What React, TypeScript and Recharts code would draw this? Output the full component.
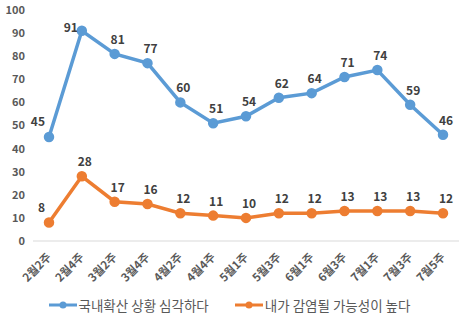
import { LineChart, Line, XAxis, YAxis, Legend, LabelList } from "recharts";

const weeks = ["2월2주", "2월4주", "3월2주", "3월4주", "4월2주", "4월4주", "5월1주", "5월3주", "6월1주", "6월3주", "7월1주", "7월3주", "7월5주"];
const serious = [45, 91, 81, 77, 60, 51, 54, 62, 64, 71, 74, 59, 46];
const infected = [8, 28, 17, 16, 12, 11, 10, 12, 12, 13, 13, 13, 12];
const yTicks = [0, 10, 20, 30, 40, 50, 60, 70, 80, 90, 100];

const seriesNames = ["국내확산 상황 심각하다", "내가 감염될 가능성이 높다"];
const BLUE = "#5B9BD5";
const ORANGE = "#ED7D31";
const FONT = "'Noto Sans CJK KR', 'Noto Sans', sans-serif";

const data = weeks.map((w, i) => ({ week: w, serious: serious[i], infected: infected[i] }));

function XTick(props: any) {
  const { x, y, payload } = props;
  return (
    <text
      x={x + 3}
      y={y + 9}
      transform={`rotate(-45, ${x + 3}, ${y + 9})`}
      textAnchor="end"
      fontSize={11.5}
      fontWeight="bold"
      fill="#595959"
      fontFamily={FONT}
    >
      {payload.value}
    </text>
  );
}

function makeLabel(leftIdx: number[]) {
  return (props: any) => {
    const { x, y, value, index } = props;
    const left = leftIdx.includes(index);
    return (
      <text
        x={left ? x - 4 : x + 3}
        y={left ? y - (index === 0 ? 11 : -1) : y - 10}
        textAnchor={left ? "end" : "middle"}
        fontSize={12}
        fontWeight="bold"
        fill="#404040"
        fontFamily={FONT}
      >
        {value}
      </text>
    );
  };
}

function LegendBox() {
  const items = [
    { name: seriesNames[0], color: BLUE },
    { name: seriesNames[1], color: ORANGE },
  ];
  return (
    <div style={{ display: "flex", justifyContent: "center", gap: 26, fontFamily: FONT, fontSize: 13.5, color: "#595959" }}>
      {items.map((it) => (
        <div key={it.name} style={{ display: "flex", alignItems: "center" }}>
          <svg width={28} height={10} style={{ marginRight: 2 }}>
            <line x1={0} y1={5} x2={28} y2={5} stroke={it.color} strokeWidth={3} />
            <circle cx={14} cy={5} r={3.5} fill={it.color} />
          </svg>
          <span>{it.name}</span>
        </div>
      ))}
    </div>
  );
}

export default function App() {
  return (
    <div style={{ position: "absolute", left: 0, top: 0, background: "#fff" }}>
      <LineChart width={474} height={324} data={data} margin={{ top: 10, right: 15, left: 0, bottom: 5 }}>
        <XAxis
          dataKey="week"
          interval={0}
          height={54}
          padding={{ left: 16, right: 16 }}
          tickLine={false}
          axisLine={{ stroke: "#D9D9D9" }}
          tick={<XTick />}
        />
        <YAxis
          domain={[0, 100]}
          ticks={yTicks}
          width={33}
          axisLine={false}
          tickLine={false}
          tick={{ fontSize: 11, fill: "#595959", fontWeight: "bold", fontFamily: FONT }}
        />
        <Legend verticalAlign="bottom" height={24} content={<LegendBox />} />
        <Line
          dataKey="serious"
          name={seriesNames[0]}
          stroke={BLUE}
          strokeWidth={3.5}
          dot={{ r: 3.5, fill: BLUE, stroke: BLUE }}
          isAnimationActive={false}
        >
          <LabelList dataKey="serious" content={makeLabel([0, 1])} />
        </Line>
        <Line
          dataKey="infected"
          name={seriesNames[1]}
          stroke={ORANGE}
          strokeWidth={3.5}
          dot={{ r: 3.5, fill: ORANGE, stroke: ORANGE }}
          isAnimationActive={false}
        >
          <LabelList dataKey="infected" content={makeLabel([0])} />
        </Line>
      </LineChart>
    </div>
  );
}
